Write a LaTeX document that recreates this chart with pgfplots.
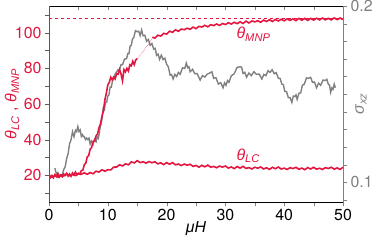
\documentclass[border=0pt]{standalone}
\usepackage{pgfplots}
\pgfplotsset{compat=1.18}
\usepackage{fontspec}
\setmainfont{TeX Gyre Heros}
\newfontfamily\gk{Liberation Sans}
\definecolor{cr}{RGB}{226,22,62}
\definecolor{gr}{RGB}{128,128,128}
\begin{document}
\begin{tikzpicture}
\pgfplotsset{
  every axis/.append style={
    scale only axis, width=294bp, height=196bp, xmin=0, xmax=50,
    /pgf/number format/assume math mode=true,
    tick label style={font=\fontsize{16}{18}\selectfont},
    label style={font=\fontsize{16}{18}\selectfont},
    axis line style={-},
    major tick length=4bp, minor tick length=4bp,
  }
}
% right axis: sigma_xz (gray), top axis line
\begin{axis}[
  name=ax2,
  axis x line*=top, axis y line*=right,
  ymin=0.0888, ymax=0.2,
  xtick={0,5,...,50}, xticklabels={},
  xtick align=inside, ytick align=outside,
  ytick={0.1,0.2},
  minor ytick={0.09,0.11,0.12,0.13,0.14,0.15,0.16,0.17,0.18,0.19},
  yticklabel style={text=gr, /pgf/number format/fixed, /pgf/number format/precision=1},
  y axis line style={gr},
  ytick style={gr},
  ylabel={\gk\textit{σ}\textsubscript{\textit{xz}}},
  ylabel style={text=gr, at={(rel axis cs:1,0.5)}, anchor=center, yshift=-18bp},
]
\addplot[gr, line width=1.4pt] coordinates {
(1.0,0.1080)(1.25,0.1048)(1.5,0.1055)(1.75,0.1027)(2.0,0.1037)(2.25,0.1041)(2.5,0.1072)(2.75,0.1088)(3.0,0.1135)
(3.25,0.1162)(3.5,0.1219)(3.75,0.1241)(4.0,0.1287)(4.25,0.1258)(4.5,0.1295)(4.7,0.1287)(4.9,0.1316)(5.1,0.1288)
(5.3,0.1297)(5.5,0.1260)(5.7,0.1270)(5.85,0.1259)(6.0,0.1259)(6.2,0.1242)(6.4,0.1251)(6.6,0.1242)(6.8,0.1250)
(7.0,0.1217)(7.2,0.1234)(7.5,0.1216)(7.75,0.1244)(8.0,0.1230)(8.2,0.1257)(8.4,0.1249)(8.7,0.1309)(9.0,0.1356)
(9.2,0.1417)(9.4,0.1410)(9.6,0.1453)(9.8,0.1453)(10.0,0.1489)(10.2,0.1496)(10.4,0.1540)(10.6,0.1540)(10.8,0.1575)
(11.0,0.1584)(11.25,0.1614)(11.5,0.1626)(11.75,0.1640)(12.0,0.1640)(12.25,0.1667)(12.5,0.1667)(12.85,0.1699)
(13.2,0.1701)(13.4,0.1730)(13.6,0.1730)(13.8,0.1773)(14.0,0.1777)(14.2,0.1814)(14.4,0.1820)(14.7,0.1860)(15.0,0.1854)
(15.25,0.1857)(15.5,0.1832)(15.75,0.1864)(16.0,0.1831)(16.3,0.1834)(16.6,0.1800)(16.9,0.1810)(17.2,0.1777)(17.5,0.1787)
(17.8,0.1756)(18.05,0.1760)(18.3,0.1720)(18.55,0.1727)(18.8,0.1697)(19.1,0.1721)(19.4,0.1696)(19.7,0.1704)(20.0,0.1670)
(20.3,0.1655)(20.6,0.1607)(20.85,0.1611)(21.1,0.1586)(21.4,0.1612)(21.7,0.1600)(22.0,0.1623)(22.3,0.1612)(22.7,0.1649)
(23.1,0.1646)(23.35,0.1676)(23.6,0.1650)(23.8,0.1655)(24.0,0.1627)(24.4,0.1641)(24.8,0.1616)(25.2,0.1616)(25.7,0.1580)
(26.1,0.1605)(26.5,0.1597)(26.9,0.1613)(27.4,0.1621)(27.7,0.1627)(28.0,0.1590)(28.4,0.1593)(28.8,0.1557)(29.2,0.1565)
(29.6,0.1536)(29.85,0.1564)(30.1,0.1550)(30.35,0.1577)(30.6,0.1567)(31.0,0.1604)(31.5,0.1616)(32.0,0.1652)(32.5,0.1655)
(32.75,0.1653)(33.0,0.1617)(33.3,0.1624)(33.6,0.1596)(34.0,0.1620)(34.4,0.1605)(34.85,0.1627)(35.3,0.1612)(35.75,0.1614)
(36.2,0.1586)(36.55,0.1612)(36.9,0.1605)(37.25,0.1633)(37.6,0.1623)(37.95,0.1639)(38.3,0.1616)(38.65,0.1622)(39.0,0.1590)
(39.3,0.1589)(39.6,0.1557)(39.85,0.1554)(40.1,0.1516)(40.4,0.1514)(40.7,0.1480)(41.0,0.1480)(41.3,0.1453)(41.55,0.1489)
(41.8,0.1486)(42.0,0.1496)(42.2,0.1470)(42.5,0.1505)(42.8,0.1507)(43.1,0.1551)(43.4,0.1556)(43.8,0.1592)(44.2,0.1590)
(44.5,0.1595)(44.8,0.1567)(45.15,0.1569)(45.5,0.1536)(45.85,0.1562)(46.2,0.1550)(46.6,0.1580)(47.0,0.1577)(47.25,0.1584)
(47.5,0.1556)(47.7,0.1552)(47.9,0.1510)(48.1,0.1535)(48.3,0.1527)(48.5,0.1557)(48.7,0.1536)
};
\end{axis}
% left axis: angles (red)
\begin{axis}[
  name=ax,
  axis x line*=bottom, axis y line*=left,
  ymin=5, ymax=115,
  xtick={0,10,...,50}, minor xtick={5,15,...,45},
  ytick={20,40,...,100}, minor ytick={10,30,...,110},
  tick align=outside,
  yticklabel style={text=cr},
  y axis line style={black!65},
  ytick style={black!65},
  xlabel={\gk\textit{μH}},
  xlabel style={at={(rel axis cs:0.5,0)}, anchor=center, yshift=-27bp},
  ylabel={\gk\textit{θ}\textsubscript{\textit{LC}} , \textit{θ}\textsubscript{\textit{MNP}}},
  ylabel style={text=cr, at={(rel axis cs:0,0.5)}, anchor=center, yshift=37bp},
]
\addplot[cr, dashed, line width=0.7pt] coordinates {(0,108) (50,108)};
% theta_MNP, first part
\addplot[cr, line width=1.6pt] coordinates {
(0,20.4)(0.25,18.75)(0.5,19.9)(0.75,18.65)(1,20.4)(1.25,19.35)(1.5,20.8)(1.75,19.25)(2,20.1)(2.25,19.15)(2.5,20.7)(2.75,19.95)
(3,21.1)(3.25,19.5)(3.5,20.7)(3.75,19.5)(4,21.3)(4.25,20.3)(4.5,21.8)(4.75,20.3)(5,21.1)(5.25,20.6)(5.5,22.6)(5.75,22.8)
(6,25.9)(6.25,26.7)(6.5,30.3)(6.75,31)(7,34.7)(7.25,35.6)(7.5,39)(7.75,39.4)(8,42.1)(8.25,43.1)(8.5,46.6)(8.75,48.8)
(9,52.9)(9.25,56.2)(9.5,62.3)(9.75,66)(10,70.7)(10.25,72.1)(10.5,75)(10.75,73.6)(11,75.2)(11.25,74.1)(11.5,76.9)(11.75,76.7)
(12,79.4)(12.25,76.8)(12.5,73)(12.75,79.3)(13,78)(13.25,80)(13.5,78.5)(13.75,82)(14,81.4)(14.25,84)(14.5,82.1)(14.75,84.7)(15,85.5)
};
\addplot[cr, line width=0.5pt, densely dotted] coordinates {(15,85.5)(16,89.5)(17,94)(17.6,97)};
% theta_MNP, second part
\addplot[cr, line width=1.6pt] coordinates {
(17.6,97.6)(18,96.9)(18.5,98.6)(19,98.1)(19.5,99.65)(20,99.2)(20.5,100.85)(21,100.2)(21.5,101.65)(22,100.8)(22.5,102.05)(23,101.7)(23.5,102.55)
(24,101.9)(24.5,103.15)(25,102.3)(25.5,103.55)(26,103.2)(26.5,104.15)(27,103.3)(27.5,104.5)(28,104)(28.5,104.9)(29,104.1)(29.5,105.15)
(30,104.6)(30.5,105.62)(31,104.85)(31.5,105.87)(32,105.1)(32.5,106.1)(33,105.2)(33.5,106.5)(34,105.5)(34.5,106.6)(35,106.1)(35.5,106.7)
(36,105.9)(36.5,107.1)(37,106.3)(37.5,107.3)(38,106.3)(38.5,107.45)(39,106.6)(39.5,107.55)(40,106.7)(40.5,107.75)(41,106.9)(41.5,107.75)
(42,106.8)(42.5,108.05)(43,107)(43.5,108.05)(44,106.9)(44.5,108.05)(45,107.1)(45.5,108.15)(46,107.2)(46.5,108.22)(47,107.25)(47.5,108.07)
(48,107.2)(48.5,108.32)(49,107.35)(49.5,108.27)(50,107.4)
};
% theta_LC
\addplot[cr, line width=1.6pt] coordinates {
(0,19.9)(0.5,18.92)(1,19.75)(1.5,18.97)(2,20.3)(2.5,19.62)(3,20.75)(3.5,19.77)(4,20.4)(4.5,19.82)(5,20.95)(5.5,20.57)
(6,21.4)(6.5,20.55)(7,21.5)(7.5,20.85)(8,22.3)(8.5,21.8)(9,23.1)(9.5,22.3)(10,23.1)(10.5,23)(11,24.6)(11.5,24.65)
(12,25.9)(12.5,25.25)(13,26.4)(13.5,25.9)(14,27.5)(14.5,26.95)(15,28.2)(15.5,27.1)(16,27.6)(16.5,26.8)(17,27.7)(17.5,27.05)
(18,27.6)(18.5,26.4)(19,27)(19.5,26)(20,27.1)(20.5,26.2)(21,27.1)(21.5,25.9)(22,26.3)(22.5,25.45)(23,26.3)(23.5,25.65)
(24,26.2)(24.5,24.97)(25,25.55)(25.5,24.52)(26,25.6)(26.5,24.75)(27,25.7)(27.5,24.55)(28,25)(28.5,24.22)(29,25.15)(29.5,24.57)
(30,25.2)(30.5,24.05)(31,24.7)(31.5,23.75)(32,24.9)(32.5,24.05)(33,25)(33.5,23.85)(34,24.3)(34.5,23.55)(35,24.5)(35.5,23.98)
(36,24.66)(36.5,23.54)(37,24.22)(37.5,23.3)(38,24.48)(38.5,23.66)(39,24.64)(39.5,23.52)(40,24)(40.5,23.29)(41,24.28)(41.5,23.77)
(42,24.46)(42.5,23.35)(43,24.04)(43.5,23.13)(44,24.32)(44.5,23.51)(45,24.5)(45.5,23.42)(46,23.94)(46.5,23.26)(47,24.28)(47.5,23.8)
(48,24.52)(48.5,23.44)(49,24.16)(49.5,23.28)(50,24.5)
};
\node[text=cr, anchor=west, font=\fontsize{16}{18}\selectfont\gk] at (axis cs:31.3,99) {\textit{θ}\textsubscript{\textit{MNP}}};
\node[text=cr, anchor=west, font=\fontsize{16}{18}\selectfont\gk] at (axis cs:31.3,31) {\textit{θ}\textsubscript{\textit{LC}}};
\end{axis}
\pgfresetboundingbox
\path[use as bounding box] ([xshift=-49bp,yshift=-39bp]ax.south west) rectangle ([xshift=31bp,yshift=6bp]ax.north east);
\end{tikzpicture}
\end{document}
